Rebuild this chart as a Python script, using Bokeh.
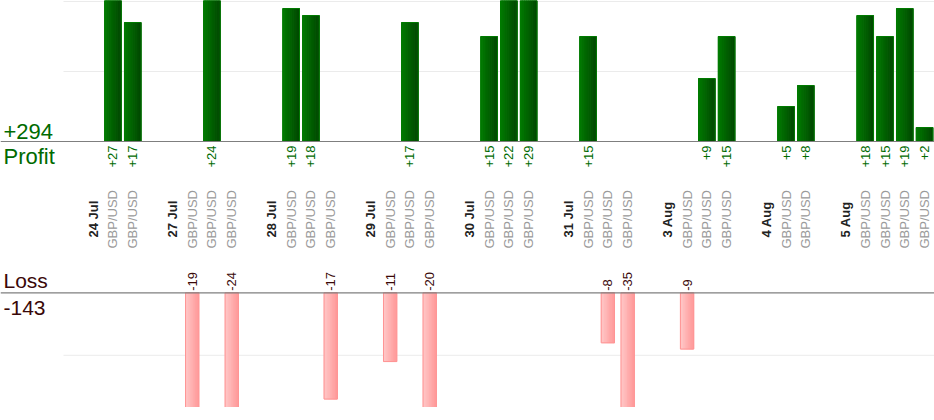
import numpy as np
from bokeh.plotting import figure
from bokeh.layouts import column
from bokeh.models import ColumnDataSource, Span, Range1d
from bokeh.transform import dodge
from bokeh.core.properties import value
from bokeh.embed import file_html
from bokeh.resources import INLINE

# ---------------- data ----------------
dates = ["24 Jul", "27 Jul", "28 Jul", "29 Jul", "30 Jul", "31 Jul", "3 Aug", "4 Aug", "5 Aug"]
symbols = [
    ["GBP/USD", "GBP/USD"],
    ["GBP/USD", "GBP/USD", "GBP/USD"],
    ["GBP/USD", "GBP/USD", "GBP/USD"],
    ["GBP/USD", "GBP/USD", "GBP/USD"],
    ["GBP/USD", "GBP/USD", "GBP/USD"],
    ["GBP/USD", "GBP/USD", "GBP/USD"],
    ["GBP/USD", "GBP/USD", "GBP/USD"],
    ["GBP/USD", "GBP/USD"],
    ["GBP/USD", "GBP/USD", "GBP/USD", "GBP/USD"],
]
results = [
    [27, 17],
    [-19, 24, -24],
    [19, 18, -17],
    [-11, 17, -20],
    [15, 22, 29],
    [15, -8, -35],
    [-9, 9, 15],
    [5, 8],
    [18, 15, 19, 2],
]
grid_values = [10, 20]

# ---------------- build slots ----------------
date_x, date_txt = [], []
sym_x, sym_txt = [], []
pos_x, pos_v, pos_lbl = [], [], []
neg_x, neg_v, neg_lbl = [], [], []
idx = 0
for d, syms, res in zip(dates, symbols, results):
    idx += 1  # blank spacer slot
    date_x.append(idx); date_txt.append(d); idx += 1
    for s, r in zip(syms, res):
        sym_x.append(idx); sym_txt.append(s)
        if r >= 0:
            pos_x.append(idx); pos_v.append(r); pos_lbl.append(f"+{r}")
        else:
            neg_x.append(idx); neg_v.append(r); neg_lbl.append(f"{r}")
        idx += 1
n_slots = idx
total_profit = sum(pos_v)
total_loss = sum(neg_v)

# ---------------- layout ----------------
W = 934
LEFT_PX = 63
slot_w = (W - LEFT_PX) / n_slots
x_start = -0.5 - LEFT_PX / slot_w
x_end = n_slots - 0.5

H1 = 258
BASE1 = 141
SC1 = 7.0
H2 = 149
BASE2 = 34.3
SC2 = 6.25

FONT = value("Liberation Sans")
GREEN_TXT = "#006a00"
LOSS_TXT = "#3a0808"


def make_fig(h, y0, y1):
    p = figure(width=W, height=h, output_backend="svg", toolbar_location=None,
               x_range=Range1d(x_start, x_end), y_range=Range1d(y0, y1),
               min_border=0, min_border_left=0, min_border_right=0,
               min_border_top=0, min_border_bottom=0)
    p.axis.visible = False
    p.grid.visible = False
    p.outline_line_color = None
    p.background_fill_color = "white"
    p.border_fill_color = "white"
    return p


def hex2rgb(h):
    h = h.lstrip("#")
    return [int(h[i:i + 2], 16) for i in (0, 2, 4)]


def gradient_bars(p, src, width, c0, c1, outline, n=8):
    a, b = np.array(hex2rgb(c0)), np.array(hex2rgb(c1))
    for k in range(n):
        t = (k + 0.5) / n
        c = a + (b - a) * t
        col = "#%02x%02x%02x" % tuple(int(round(v)) for v in c)
        off = -width / 2 + (k + 0.5) * width / n
        p.vbar(x=dodge("x", off), top="top", bottom="bottom", width=width / n,
               fill_color=col, line_color=col, line_width=1, source=src)
    p.vbar(x="x", top="top", bottom="bottom", width=width, fill_color=None,
           line_color=outline, line_width=1, source=src)


# ---------------- top (profit) ----------------
top = make_fig(H1, -(H1 - BASE1) / SC1, BASE1 / SC1)
gx0 = [-0.5] * len(grid_values)
gx1 = [x_end] * len(grid_values)
top.segment(x0=gx0, x1=gx1, y0=grid_values, y1=grid_values, line_color="#ebebeb", line_width=1)

psrc = ColumnDataSource(dict(x=pos_x, top=pos_v, bottom=[0] * len(pos_v), lbl=pos_lbl))
gradient_bars(top, psrc, 0.84, "#007c00", "#004700", "#007a00")
top.add_layout(Span(location=0, dimension="width", line_color="#7f7f7f", line_width=1.2))

top.text(x="x", y="bottom", text="lbl", source=psrc, angle=np.pi / 2, y_offset=4,
         text_align="right", text_baseline="middle", text_font=FONT,
         text_font_size="13px", text_color=GREEN_TXT)

ssrc = ColumnDataSource(dict(x=sym_x, y=[0] * len(sym_x), t=sym_txt))
top.text(x="x", y="y", text="t", source=ssrc, angle=np.pi / 2, y_offset=107,
         text_align="left", text_baseline="middle", text_font=FONT,
         text_font_size="13px", text_color="#9a9a9a")
dsrc = ColumnDataSource(dict(x=date_x, y=[0] * len(date_x), t=date_txt))
top.text(x="x", y="y", text="t", source=dsrc, angle=np.pi / 2, y_offset=96,
         text_align="left", text_baseline="middle", text_font=FONT,
         text_font_size="13px", text_font_style="bold", text_color="#222222")

top.text(x=[x_start], y=[0], text=[f"+{total_profit}"], x_offset=3, y_offset=-10,
         text_align="left", text_baseline="alphabetic", text_font=FONT,
         text_font_size="22px", text_color=GREEN_TXT)
top.text(x=[x_start], y=[0], text=["Profit"], x_offset=3, y_offset=15,
         text_align="left", text_baseline="alphabetic", text_font=FONT,
         text_font_size="22px", text_color=GREEN_TXT)

# ---------------- bottom (loss) ----------------
bot = make_fig(H2, -(H2 - BASE2) / SC2, BASE2 / SC2)
ng = [-g for g in grid_values]
bot.segment(x0=gx0, x1=gx1, y0=ng, y1=ng, line_color="#ebebeb", line_width=1)

nsrc = ColumnDataSource(dict(x=neg_x, top=[0] * len(neg_v), bottom=neg_v, lbl=neg_lbl))
gradient_bars(bot, nsrc, 0.67, "#ffcaca", "#ff9999", "#ff9494")
bot.add_layout(Span(location=0, dimension="width", line_color="#7f7f7f", line_width=1.2))

bot.text(x="x", y="top", text="lbl", source=nsrc, angle=np.pi / 2, y_offset=-2,
         text_align="left", text_baseline="middle", text_font=FONT,
         text_font_size="13px", text_color=LOSS_TXT)

bot.text(x=[x_start], y=[0], text=["Loss"], x_offset=3, y_offset=-12,
         text_align="left", text_baseline="alphabetic", text_font=FONT,
         text_font_size="21px", text_color=LOSS_TXT)
bot.text(x=[x_start], y=[0], text=[f"{total_loss}"], x_offset=3, y_offset=15,
         text_align="left", text_baseline="alphabetic", text_font=FONT,
         text_font_size="21px", text_color=LOSS_TXT)

layout = column(top, bot, spacing=0)
open("out.html", "w").write(file_html(layout, INLINE))
